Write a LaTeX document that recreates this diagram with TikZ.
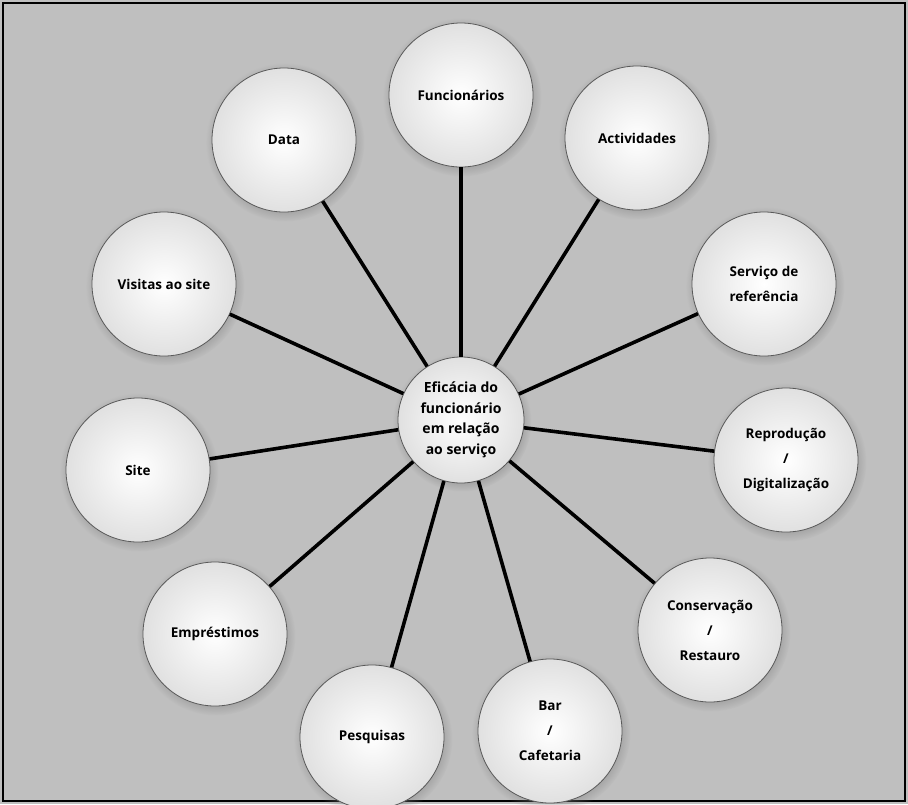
\documentclass[tikz,border=0pt]{standalone}
\usepackage{fontspec}
\setsansfont{Open Sans}
\usepackage{tikz}
\usetikzlibrary{shapes,positioning,shadows}

\begin{document}
\begin{tikzpicture}[x=1pt,y=-1pt,
    ball/.style={circle, minimum size=144pt, inner sep=0pt, align=center,
        draw=black!65, line width=0.8pt,
        shading=radial, inner color=white, outer color=black!12,
        circular drop shadow={shadow xshift=1pt, shadow yshift=-2pt, opacity=0.45},
        font=\sffamily\bfseries\fontsize{13.5}{25}\selectfont},
    hub/.style={ball, minimum size=126pt, font=\sffamily\bfseries\fontsize{14}{20.5}\selectfont},
    spoke/.style={line width=3.6pt, black}]
    \useasboundingbox (0,0) rectangle (908,804);
    \fill [black!25] (0,0) rectangle (908,804);
    \draw [black, line width=1.6pt] (3,3) rectangle (905,801);
    % outer ring
    \node [ball] (func)  at (461,95)  {Funcionários};
    \node [ball] (activ) at (637,138) {Actividades};
    \node [ball] (serv)  at (764,284) {Serviço de\\referência};
    \node [ball] (repro) at (786,460) {Reprodução\\/\\Digitalização};
    \node [ball] (cons)  at (710,630) {Conservação\\/\\Restauro};
    \node [ball] (bar)   at (550,731) {Bar\\/\\Cafetaria};
    \node [ball] (pesq)  at (372,737) {Pesquisas};
    \node [ball] (empr)  at (215,634) {Empréstimos};
    \node [ball] (site)  at (138,470) {Site};
    \node [ball] (visit) at (164,284) {Visitas ao site};
    \node [ball] (data)  at (284,140) {Data};
    % centre
    \node [hub] (ctr) at (461,420) {Eficácia do\\funcionário\\em relação\\ao serviço};
    \foreach \n in {func,activ,serv,repro,cons,bar,pesq,empr,site,visit,data}
        \draw [spoke] (ctr) -- (\n);
\end{tikzpicture}
\end{document}
